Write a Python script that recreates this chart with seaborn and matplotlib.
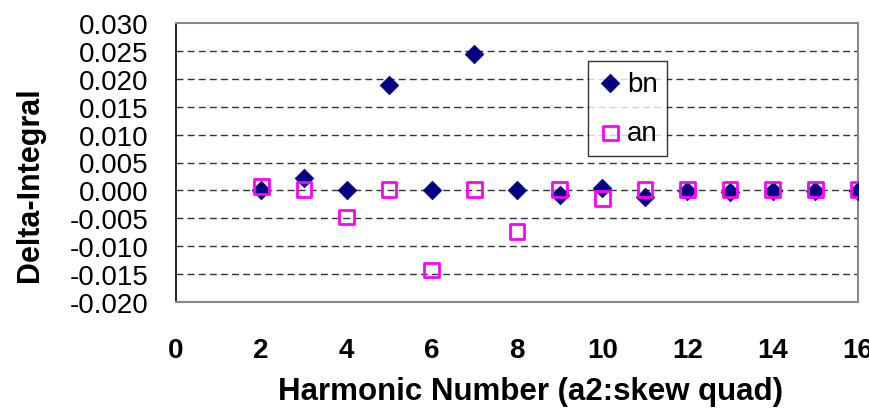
import matplotlib
matplotlib.use("Agg")
import matplotlib.pyplot as plt
import seaborn as sns
import pandas as pd
import numpy as np

harmonics = [2, 3, 4, 5, 6, 7, 8, 9, 10, 11, 12, 13, 14, 15, 16]
bn = [0.0000, 0.0022, 0.0000, 0.0188, 0.0000, 0.0244, 0.0000, -0.0008, 0.0004,
      -0.0012, -0.0001, -0.0002, -0.0001, -0.0001, -0.0001]
an = [0.0007, 0.0002, -0.0048, 0.0002, -0.0143, 0.0002, -0.0074, 0.0002, -0.0015,
      0.0002, 0.0002, 0.0002, 0.0002, 0.0002, 0.0002]
xticks = [0, 2, 4, 6, 8, 10, 12, 14, 16]
yticks = [-0.020, -0.015, -0.010, -0.005, 0.000, 0.005, 0.010, 0.015, 0.020, 0.025, 0.030]

sns.set_style("white")
plt.rcParams['font.family'] = ['Liberation Sans', 'DejaVu Sans']
plt.rcParams['text.color'] = 'black'
plt.rcParams['xtick.color'] = 'black'
plt.rcParams['ytick.color'] = 'black'
plt.rcParams['axes.labelcolor'] = 'black'

df = pd.DataFrame({"n": harmonics, "bn": bn, "an": an})

fig = plt.figure(figsize=(8.69, 4.10), dpi=100)
ax = fig.add_axes([176/869, 1-303/410, 682/869, 279/410])

for y in yticks[1:-1]:
    ax.axhline(y, color='#333333', lw=1.0, ls=(0, (5, 3)), zorder=1)

sns.scatterplot(data=df, x="n", y="bn", marker="D", color="#000080", s=90,
                edgecolor="#000080", linewidth=0.5, label="bn", ax=ax, zorder=3)
sns.scatterplot(data=df, x="n", y="an", marker="s", facecolor="none", s=110,
                edgecolor="#FF00FF", linewidth=2, label="an", ax=ax, zorder=4)

ax.set_xlim(0, 16)
ax.set_ylim(-0.020, 0.030)
ax.set_xticks(xticks)
ax.set_yticks(yticks)
ax.set_xticklabels([str(t) for t in xticks], fontsize=20, fontweight='bold')
ax.set_yticklabels([f"{t:.3f}" for t in yticks], fontsize=20)
ax.tick_params(axis='x', direction='out', length=9, width=1, colors='black', pad=16)
ax.tick_params(axis='y', direction='out', length=8, width=1, colors='black', pad=12)
ax.set_xlabel("")
ax.set_ylabel("")

for s in ['left']:
    ax.spines[s].set_color('black')
    ax.spines[s].set_linewidth(1.2)
for s in ['top', 'right', 'bottom']:
    ax.spines[s].set_color('#888888')
    ax.spines[s].set_linewidth(1.5)

fig.text(530/869, 1-392/410, "Harmonic Number (a2:skew quad)",
         fontsize=22.5, fontweight='bold', ha='center', va='center')
fig.text(30/869, 1-185/410, "Delta-Integral", fontsize=22, fontweight='bold',
         rotation=90, ha='center', va='center')

leg = ax.legend(loc='upper left', bbox_to_anchor=((588-176)/682, (303-62)/279),
                borderaxespad=0, fontsize=20, frameon=True, fancybox=False,
                handletextpad=0.15, handlelength=0.9, labelspacing=0.85,
                borderpad=0.35)
leg.get_frame().set_edgecolor('black')
leg.get_frame().set_linewidth(1.0)

fig.savefig("out.png", dpi=100)
